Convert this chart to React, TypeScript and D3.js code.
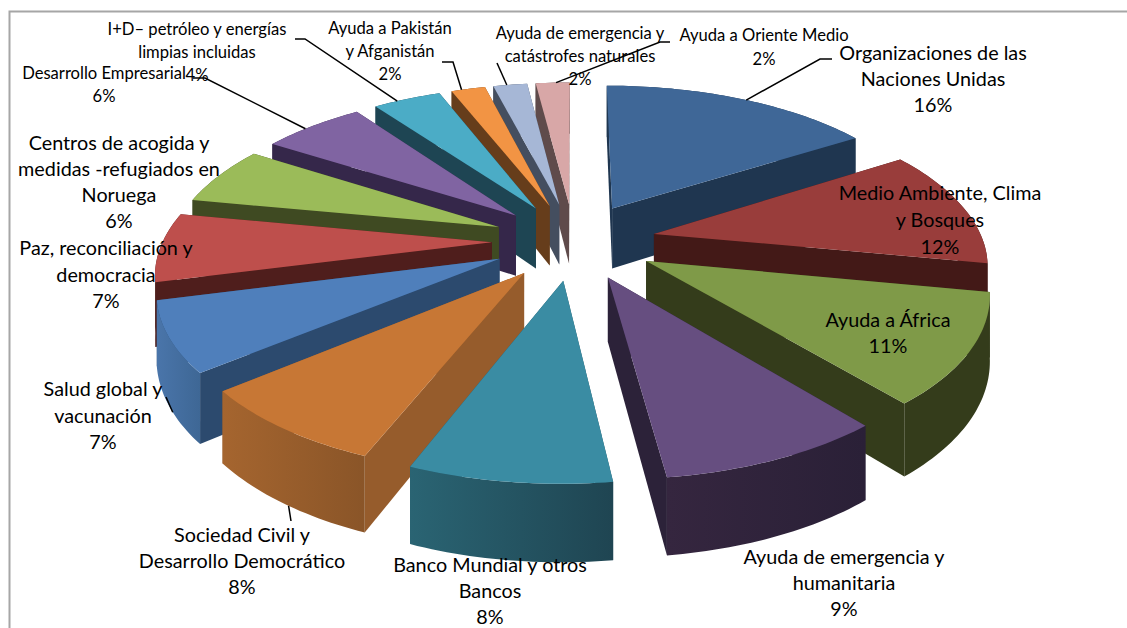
import React from "react";
import * as d3 from "d3";

// Budget shares per programme area, clockwise from twelve o'clock
const categories = [
  "Organizaciones de las Naciones Unidas",
  "Medio Ambiente, Clima y Bosques",
  "Ayuda a África",
  "Ayuda de emergencia y humanitaria",
  "Banco Mundial y otros Bancos",
  "Sociedad Civil y Desarrollo Democrático",
  "Salud global y vacunación",
  "Paz, reconciliación y democracia",
  "Centros de acogida y medidas -refugiados en Noruega",
  "Desarrollo Empresarial",
  "I+D– petróleo y energías limpias incluidas",
  "Ayuda a Pakistán y Afganistán",
  "Ayuda de emergencia y catástrofes naturales",
  "Ayuda a Oriente Medio",
];
const shares = [16, 12, 11, 9, 8, 8, 7, 7, 6, 6, 4, 2, 2, 2];

const topColors = ["#3F6797", "#993D3B", "#7F9A48", "#664E80", "#3A8CA3", "#C77735", "#4F7FBB", "#BE4F4C", "#9BBB59", "#8064A2", "#4BACC6", "#F29444", "#A6B7D6", "#D8A7A7"];
const radialColors = ["#1F3650", "#431917", "#343C1B", "#2C2239", "#225260", "#965C2C", "#2C4A6E", "#4F1E1C", "#3F4A22", "#35274A", "#1E4553", "#663D1B", "#444E5F", "#5F4B4B"];
const rimLeft = ["#1F3650", "#431917", "#343C1B", "#35263F", "#2A6473", "#A5652F", "#4A75AA", "#4F1E1C", "#3F4A22", "#35274A", "#1E4553", "#663D1B", "#444E5F", "#5F4B4B"];
const rimRight = ["#1F3650", "#431917", "#343C1B", "#2A2037", "#1F4552", "#8A5528", "#3E6795", "#4F1E1C", "#3F4A22", "#35274A", "#1E4553", "#663D1B", "#444E5F", "#5F4B4B"];

// Label blocks: centre x, first baseline, line spacing, font size, lines
type Label = { x: number; y: number; dy: number; size: number; lines: string[] };
const LARGE = 19.8;
const SMALL = 16.6;
const labels: Label[] = [
  { x: 933, y: 60, dy: 26, size: LARGE, lines: ["Organizaciones de las", "Naciones Unidas", "16%"] },
  { x: 940, y: 200, dy: 27, size: LARGE, lines: ["Medio Ambiente, Clima", "y Bosques", "12%"] },
  { x: 888, y: 327, dy: 26, size: LARGE, lines: ["Ayuda a África", "11%"] },
  { x: 844, y: 564, dy: 26, size: LARGE, lines: ["Ayuda de emergencia y", "humanitaria", "9%"] },
  { x: 490, y: 572, dy: 26, size: LARGE, lines: ["Banco Mundial y otros", "Bancos", "8%"] },
  { x: 242, y: 542, dy: 26, size: LARGE, lines: ["Sociedad Civil y", "Desarrollo Democrático", "8%"] },
  { x: 103, y: 396, dy: 26.5, size: LARGE, lines: ["Salud global y", "vacunación", "7%"] },
  { x: 106, y: 255, dy: 26.5, size: LARGE, lines: ["Paz, reconciliación y", "democracia", "7%"] },
  { x: 119, y: 150, dy: 26, size: LARGE, lines: ["Centros de acogida y", "medidas -refugiados en", "Noruega", "6%"] },
  { x: 104, y: 79, dy: 23, size: SMALL, lines: ["Desarrollo Empresarial", "6%"] },
  { x: 197, y: 35, dy: 23, size: SMALL, lines: ["I+D– petróleo y energías", "limpias incluidas", "4%"] },
  { x: 390, y: 34, dy: 23, size: SMALL, lines: ["Ayuda a Pakistán", "y Afganistán", "2%"] },
  { x: 580, y: 39, dy: 23, size: SMALL, lines: ["Ayuda de emergencia y", "catástrofes naturales", "2%"] },
  { x: 764, y: 41, dy: 24, size: SMALL, lines: ["Ayuda a Oriente Medio", "2%"] },
];

// Leader lines: slice index, position along its rim (0..1), then the elbow points towards the label
const leaders: { slice: number; along: number; elbow: [number, number][] }[] = [
  { slice: 0, along: 0.52, elbow: [[820, 59], [832, 59]] },
  { slice: 6, along: 0.42, elbow: [[166, 397]] },
  { slice: 5, along: 0.46, elbow: [[291, 521]] },
  { slice: 9, along: 0.42, elbow: [[205, 78], [193, 78]] },
  { slice: 10, along: 0.35, elbow: [[305, 39], [295, 39]] },
  { slice: 11, along: 0.3, elbow: [[453, 62], [442, 62]] },
  { slice: 12, along: 0.4, elbow: [[497, 63]] },
  { slice: 13, along: 0.6, elbow: [[660, 42], [670, 42]] },
];

const WIDTH = 1127;
const HEIGHT = 628;
const RADIUS = 329; // disc radius in ground-plane units
const EXPLODE = 82; // radial pull of each slice
const THICK = 62; // extrusion of the disc
const CAM = 1950; // camera distance, controls the foreshortening
const CX = 574;
const CY = 241;
const VANISH_Y = -670;

type P = { X: number; Z: number };

const project = (p: P, level: number): [number, number] => {
  const w = 1 / (1 - p.Z / CAM);
  return [CX + p.X * w, VANISH_Y + (CY - VANISH_Y + level * THICK) * w];
};

const line = d3.line<[number, number]>();

const arcs = d3
  .pie<number>()
  .sort(null)
  .value((d) => d)(shares);

const sliceGeometry = arcs.map((a, i) => {
  const mid = (a.startAngle + a.endAngle) / 2;
  const apex: P = { X: EXPLODE * Math.sin(mid), Z: -EXPLODE * Math.cos(mid) };
  const at = (angle: number): P => ({
    X: apex.X + RADIUS * Math.sin(angle),
    Z: apex.Z - RADIUS * Math.cos(angle),
  });
  const steps = Math.max(4, Math.ceil((a.endAngle - a.startAngle) / 0.02));
  const rim = d3.range(steps + 1).map((k) => at(a.startAngle + ((a.endAngle - a.startAngle) * k) / steps));
  return { i, mid, apex, rim, at, a, depth: apex.Z };
});

const wallPath = (p: P, q: P) =>
  line([project(p, 0), project(q, 0), project(q, 1), project(p, 1)]) + "Z";

function Slice({ geo }: { geo: (typeof sliceGeometry)[number] }) {
  const { i, apex, rim } = geo;
  const first = rim[0];
  const last = rim[rim.length - 1];
  const topRim = rim.map((p) => project(p, 0));
  const bottomRim = rim.map((p) => project(p, 1)).reverse();
  const xs = topRim.map((p) => p[0]);
  const [x0, x1] = d3.extent(xs) as [number, number];
  const gradId = `rim-${i}`;
  const faces = [
    { d: wallPath(apex, first), fill: radialColors[i], z: (apex.Z + first.Z) / 2 },
    { d: wallPath(apex, last), fill: radialColors[i], z: (apex.Z + last.Z) / 2 },
    { d: line([...topRim, ...bottomRim]) + "Z", fill: `url(#${gradId})`, z: d3.mean(rim, (p) => p.Z) as number },
  ].sort((a, b) => a.z - b.z);
  const top = line([project(apex, 0), ...topRim]) + "Z";
  return (
    <g>
      <defs>
        <linearGradient id={gradId} gradientUnits="userSpaceOnUse" x1={x0} x2={x1} y1={0} y2={0}>
          <stop offset="0" stopColor={rimLeft[i]} />
          <stop offset="1" stopColor={rimRight[i]} />
        </linearGradient>
      </defs>
      {faces.map((f, k) => (
        <path key={k} d={f.d} fill={f.fill} />
      ))}
      <path d={top} fill={topColors[i]} />
    </g>
  );
}

export default function App() {
  const ordered = [...sliceGeometry].sort((a, b) => a.depth - b.depth);
  return (
    <svg
      width={WIDTH}
      height={HEIGHT}
      viewBox={`0 0 ${WIDTH} ${HEIGHT}`}
      style={{ position: "fixed", left: 0, top: 0, background: "#fff" }}
    >
      <path d={`M${WIDTH},11.5 H9.5 V${HEIGHT}`} fill="none" stroke="#A6A6A6" strokeWidth={2} />
      {ordered.map((g) => (
        <Slice key={g.i} geo={g} />
      ))}
      {leaders.map((l, k) => {
        const g = sliceGeometry[l.slice];
        const angle = g.a.startAngle + (g.a.endAngle - g.a.startAngle) * l.along;
        const isFront = Math.cos(angle) < 0;
        const start = project(g.at(angle), isFront ? 1 : 0);
        return <path key={k} d={line([start, ...l.elbow]) ?? ""} fill="none" stroke="#000" strokeWidth={1.5} />;
      })}
      <g fontFamily="Lato, 'Open Sans', sans-serif" fill="#000" textAnchor="middle">
        {labels.map((l, k) => (
          <text key={k} x={l.x} y={l.y} fontSize={l.size} aria-label={categories[k]}>
            {l.lines.map((t, j) => (
              <tspan key={j} x={l.x} y={l.y + j * l.dy}>
                {t}
              </tspan>
            ))}
          </text>
        ))}
      </g>
    </svg>
  );
}
